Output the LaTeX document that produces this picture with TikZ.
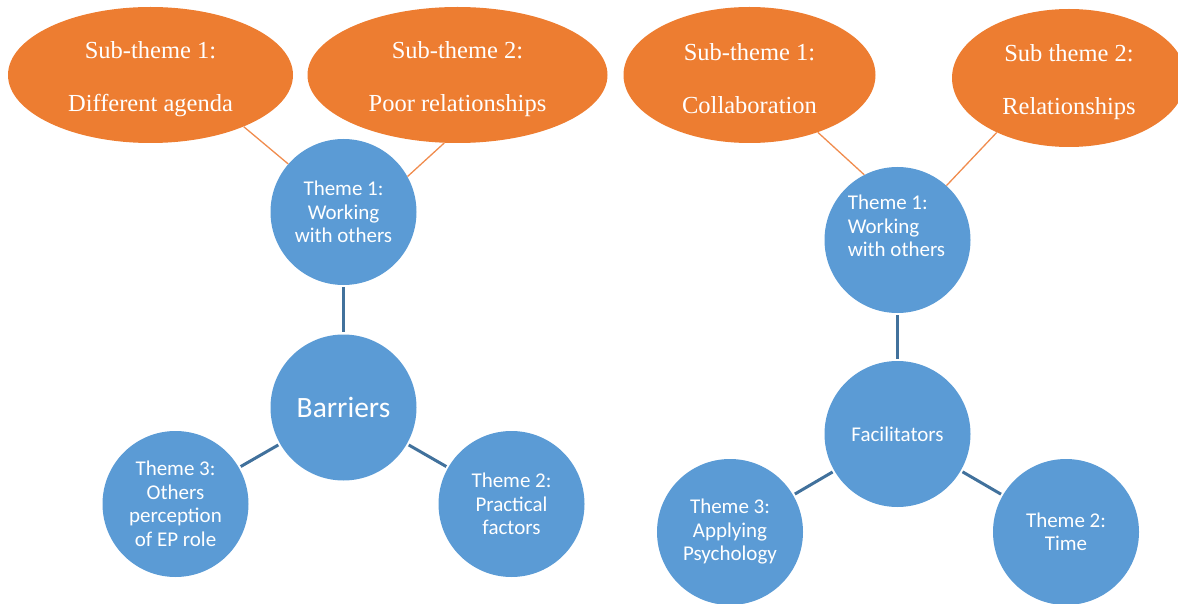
\documentclass[tikz,border=0pt]{standalone}
\usepackage{fontspec}
\setmainfont{Liberation Serif}
\newfontfamily\calib{Carlito}
\usetikzlibrary{shapes.geometric}
\definecolor{oran}{HTML}{ED7D31}
\definecolor{blu}{HTML}{5B9BD5}
\definecolor{dblu}{HTML}{41719C}
\definecolor{lineor}{HTML}{F08C4E}
\newcommand\toppad{\rule{0pt}{25pt}}
\begin{document}
\begin{tikzpicture}[x=1pt,y=-1pt,
 sub/.style={ellipse, fill=oran, inner sep=0pt, text=white, align=center, font=\fontsize{24.5}{53}\selectfont},
 circ/.style={circle, fill=blu, inner sep=0pt, minimum size=146pt, text=white, align=center, font=\calib\fontsize{21}{23.5}\selectfont},
 ctext/.style={inner sep=0pt, text=white, font=\calib\fontsize{21}{23.5}\selectfont},
 blink/.style={draw=dblu, line width=3pt, shorten <=2pt, shorten >=2pt},
 olink/.style={draw=lineor, line width=1.3pt}]
\useasboundingbox (0,0) rectangle (1178,604);
% sub-theme ellipses
\node[sub, minimum width=285pt, minimum height=136pt] (e1) at (150.5,75) {\toppad Sub-theme 1:\\Different agenda};
\node[sub, minimum width=300pt, minimum height=136pt] (e2) at (457.5,75) {\toppad Sub-theme 2:\\Poor relationships};
\node[sub, minimum width=252pt, minimum height=136pt] (e3) at (749.5,75) {\toppad Sub-theme 1:\\Collaboration};
\node[sub, minimum width=234pt, minimum height=138pt] (e4) at (1069,78) {\toppad Sub theme 2:\\Relationships};
% left diagram
\node[circ] (t1) at (343.5,212) {Theme 1:\\Working\\with others};
\node[circ, font=\calib\fontsize{29.5}{33}\selectfont] (bar) at (343.5,407.5) {Barriers};
\node[circ] (t3) at (175.5,504) {Theme 3:\\Others\\perception\\of EP role};
\node[circ] (t2) at (511.5,504) {Theme 2:\\Practical\\factors};
% right diagram
\node[circ] (rt1) at (897.5,240) {};
\node[ctext, align=left] (rt1txt) at (896.5,226) {Theme 1:\\Working\\with others};
\node[circ] (fac) at (897.5,434) {Facilitators};
\node[circ] (rt3) at (730,532) {Theme 3:\\Applying\\Psychology};
\node[circ] (rt2) at (1066,532) {Theme 2:\\Time};
% connectors
\draw[olink] (e1.331) -- (t1.139);
\draw[olink] (e2.259) -- (t1.29);
\draw[olink] (e3.320) -- (rt1.117);
\draw[olink] (e4.217) -- (rt1.48);
\draw[blink] (t1) -- (bar);
\draw[blink] (bar) -- (t3);
\draw[blink] (bar) -- (t2);
\draw[blink] (rt1) -- (fac);
\draw[blink] (fac) -- (rt3);
\draw[blink] (fac) -- (rt2);
\end{tikzpicture}
\end{document}
